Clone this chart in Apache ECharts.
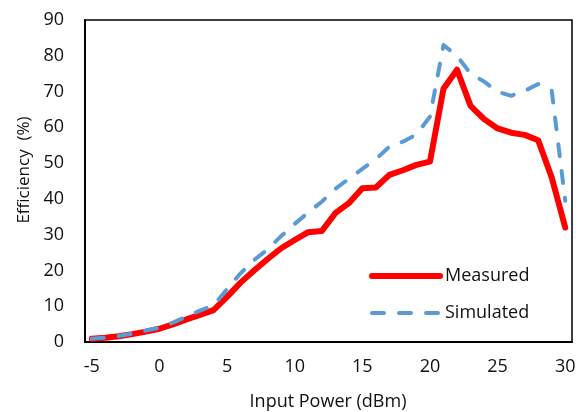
<!DOCTYPE html>
<html>
<head>
<meta charset="utf-8">
<script src="https://cdn.jsdelivr.net/npm/echarts@6/dist/echarts.min.js"></script>
<style>
html,body{margin:0;padding:0;background:#fff;}
#chart{width:584px;height:412px;}
</style>
</head>
<body>
<div id="chart"></div>
<script>
var inputPower = ['-5','-4','-3','-2','-1','0','1','2','3','4','5','6','7','8','9','10','11','12','13','14','15','16','17','18','19','20','21','22','23','24','25','26','27','28','29','30'];
var measured = [0.9,1.2,1.6,2.2,2.9,3.7,4.9,6.3,7.6,8.9,12.6,16.6,20.0,23.2,26.2,28.5,30.7,31.0,36.0,38.8,43.0,43.2,46.7,48.0,49.5,50.4,70.8,76.1,66.0,62.3,59.7,58.5,57.9,56.4,46.0,32.0];
var simulated = [0.9,1.2,1.7,2.3,3.2,4.0,5.4,7.1,8.8,10.2,14.8,19.2,22.9,25.9,29.6,33.0,36.2,39.2,42.8,45.6,48.4,51.1,54.6,56.0,58.0,63.0,83.0,80.0,75.0,72.8,70.0,68.8,70.2,72.1,70.3,39.5];
var seriesNames = ['Measured','Simulated'];
var xTitle = 'Input Power (dBm)';
var yTitle = 'Efficiency  (%)';

var FONT = '"Open Sans", "DejaVu Sans", sans-serif';
var chart = echarts.init(document.getElementById('chart'), null, {renderer:'canvas'});
chart.setOption({
  animation: false,
  backgroundColor: '#fff',
  grid: {left: 85, right: 12, top: 20, bottom: 70, show: true, borderColor: '#000', borderWidth: 1.5, containLabel: false},
  legend: {
    orient: 'vertical', left: 364, top: 262, itemWidth: 68, itemHeight: 14, itemGap: 19,
    itemStyle: {opacity: 0},
    lineStyle: {width: 'inherit', type: 'inherit', cap: 'round'},
    textStyle: {fontFamily: FONT, fontSize: 18, color: '#111', padding: [0,0,0,0]},
    itemTextGap: 8,
    data: seriesNames
  },
  xAxis: {
    type: 'category', data: inputPower, boundaryGap: true,
    axisLine: {show: true, lineStyle: {color: '#000', width: 2}},
    axisTick: {show: false},
    axisLabel: {interval: 4, margin: 16, fontFamily: FONT, fontSize: 18, color: '#111'},
    splitLine: {show: false}
  },
  yAxis: {
    type: 'value', min: 0, max: 90, interval: 10,
    axisLine: {show: true, lineStyle: {color: '#000', width: 2}},
    axisTick: {show: false},
    axisLabel: {margin: 21, fontFamily: FONT, fontSize: 18, color: '#111'},
    splitLine: {show: false}
  },
  graphic: [
    {type: 'text', x: 328, y: 402, style: {text: xTitle, font: '18px ' + FONT, fill: '#111', align: 'center', verticalAlign: 'middle'}},
    {type: 'text', x: 24, y: 170, rotation: Math.PI/2, style: {text: yTitle, font: '17px ' + FONT, fill: '#111', align: 'center', verticalAlign: 'middle'}}
  ],
  series: [
    {name: seriesNames[0], type: 'line', data: measured, symbol: 'none', smooth: false,
     lineStyle: {color: '#FF0000', width: 6, join: 'round', cap: 'round'}, itemStyle: {color: '#FF0000'}, z: 2},
    {name: seriesNames[1], type: 'line', data: simulated, symbol: 'none', smooth: false,
     lineStyle: {color: '#5B9BD5', width: 4, type: [12, 15], cap: 'round', join: 'round'}, itemStyle: {color: '#5B9BD5'}, z: 3}
  ]
});
</script>
</body>
</html>
